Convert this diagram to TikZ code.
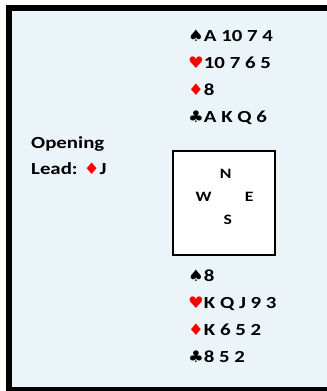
\documentclass[tikz,border=0pt]{standalone}
\usepackage{fontspec}
\setmainfont[FakeStretch=1.23]{Carlito}
\newfontfamily\suitfont[FakeStretch=1.1]{DejaVu Sans}
\definecolor{bgblue}{RGB}{235,244,248}
\definecolor{suitred}{RGB}{255,0,0}
\newcommand{\Sp}{{\suitfont\fontsize{16}{16}\selectfont ♠}}
\newcommand{\He}{{\color{suitred}\suitfont\fontsize{16}{16}\selectfont ♥}}
\newcommand{\Di}{{\color{suitred}\suitfont\fontsize{16}{16}\selectfont ♦}}
\newcommand{\Cl}{{\suitfont\fontsize{16}{16}\selectfont ♣}}
\tikzset{
  hand/.style={anchor=base west, inner sep=0pt, font=\fontsize{17}{17}\selectfont\bfseries},
  dir/.style={anchor=base, inner sep=0pt, font=\fontsize{14.4}{14.4}\selectfont\bfseries},
  tablebox/.style={draw=black, line width=1.2bp, fill=white, minimum width=102bp, minimum height=104bp, inner sep=0pt}
}
\begin{document}
\begin{tikzpicture}[x=1bp,y=-1bp]
\useasboundingbox (0,0) rectangle (327,391);
\draw[line width=6bp, fill=bgblue] (9,8) rectangle (340,389.5);
% North
\node[hand] (n1) at (188,41.7) {\Sp A 10 7 4};
\node[hand] (n2) at (188,68.3) {\He 10 7 6 5};
\node[hand] (n3) at (188,95.6) {\Di 8};
\node[hand] (n4) at (188,122.8) {\Cl A K Q 6};
% lead
\node[hand] (op) at (31,148.3) {Opening};
\node[hand] (ld) at (31,174.7) {Lead: \Di J};
% table
\node[tablebox] (tbl) at (224,203) {};
\node[dir] (dn) at (225.7,178.7) {N};
\node[dir] (dw) at (203.5,201.5) {W};
\node[dir] (de) at (249.3,201.5) {E};
\node[dir] (ds) at (227.8,224.7) {S};
% South
\node[hand] (s1) at (188,281.7) {\Sp 8};
\node[hand] (s2) at (188,308.5) {\He K Q J 9 3};
\node[hand] (s3) at (188,335.7) {\Di K 6 5 2};
\node[hand] (s4) at (188,362.8) {\Cl 8 5 2};
\end{tikzpicture}
\end{document}
